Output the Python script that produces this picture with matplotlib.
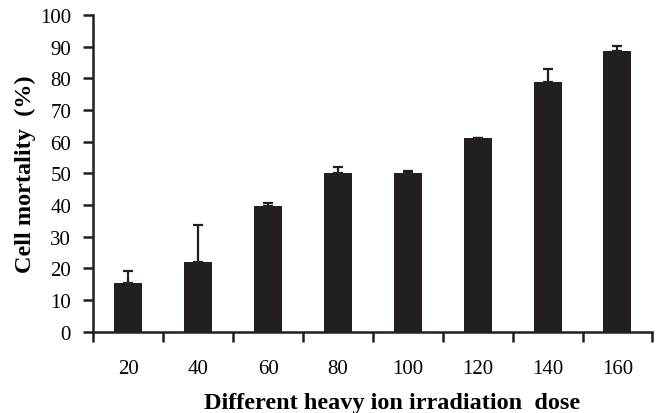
import numpy as np
import matplotlib
matplotlib.use('Agg')
import matplotlib.pyplot as plt

# dose groups and measured mortality (%), upper error only
doses = ['20', '40', '60', '80', '100', '120', '140', '160']
mortality = [15.3, 21.9, 39.6, 50.1, 50.1, 61.0, 78.7, 88.6]
err_up = [4.0, 11.9, 1.0, 2.0, 0.5, 0.2, 4.1, 1.5]

plt.rcParams['font.family'] = ['Liberation Serif', 'DejaVu Serif']
dark = '#231f20'

fig = plt.figure(figsize=(6.57, 4.14), dpi=100)
ax = fig.add_axes([0.142, 0.1964, 0.851, 0.765])

x = np.arange(len(doses))
ax.bar(x, mortality, width=0.4, color=dark, zorder=2)
ax.errorbar(x, mortality, yerr=[np.zeros(len(err_up)), err_up], fmt='none',
            ecolor=dark, elinewidth=1.6, capsize=3.6, capthick=1.6, zorder=3)

ax.set_xlim(-0.5, len(doses) - 0.5)
ax.set_ylim(0, 100)
ax.set_yticks(np.arange(0, 101, 10))

# labels sit under the bars, ticks sit between the groups
ax.set_xticks(x)
ax.set_xticklabels(doses)
ax.set_xticks(np.arange(-0.5, len(doses), 1), minor=True)
ax.tick_params(axis='x', which='major', length=0, pad=20, labelsize=15)
ax.tick_params(axis='x', which='minor', length=7, width=1.8, direction='out', color=dark)
ax.tick_params(axis='y', length=7, width=1.8, direction='out', pad=9, labelsize=15, color=dark)

for side in ['top', 'right']:
    ax.spines[side].set_visible(False)
for side in ['left', 'bottom']:
    ax.spines[side].set_linewidth(1.8)
    ax.spines[side].set_color(dark)

ax.set_xlabel('Different heavy ion irradiation  dose', fontsize=17.5, fontweight='bold', labelpad=10)
ax.xaxis.label.set_x(0.534)
ax.set_ylabel('Cell mortality  (%)', fontsize=17.5, fontweight='bold', labelpad=3)

fig.savefig('out.png', dpi=100)
